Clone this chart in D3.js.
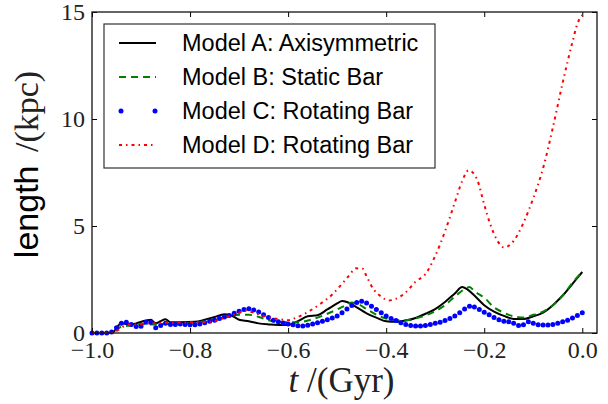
<!DOCTYPE html>
<html>
<head>
<meta charset="utf-8">
<script src="https://cdn.jsdelivr.net/npm/d3@7"></script>
<style>
  body { margin: 0; background: #fff; }
  svg { display: block; }
</style>
</head>
<body>
<div id="chart"></div>
<script>
// Model A: Axisymmetric (t, length)
var modelA = [[-1.0,0],[-0.96,0],[-0.94,0.45],[-0.92,0.4],[-0.91,0.45],[-0.89,0.58],[-0.88,0.62],[-0.87,0.45],
  [-0.86,0.55],[-0.85,0.64],[-0.84,0.5],[-0.82,0.5],[-0.79,0.52],[-0.77,0.62],[-0.75,0.75],[-0.73,0.88],
  [-0.72,0.85],[-0.71,0.75],[-0.70,0.62],[-0.68,0.55],[-0.66,0.45],[-0.64,0.4],[-0.62,0.37],[-0.60,0.38],
  [-0.58,0.55],[-0.56,0.78],[-0.54,0.83],[-0.52,1.1],[-0.50,1.38],[-0.49,1.5],[-0.48,1.45],[-0.46,1.2],
  [-0.44,0.92],[-0.42,0.72],[-0.40,0.55],[-0.38,0.52],[-0.36,0.58],[-0.34,0.7],[-0.32,0.9],[-0.30,1.12],
  [-0.28,1.45],[-0.26,1.85],[-0.245,2.15],[-0.235,2.05],[-0.22,1.75],[-0.20,1.3],[-0.18,1.0],[-0.16,0.8],
  [-0.14,0.66],[-0.12,0.65],[-0.10,0.78],[-0.08,0.95],[-0.06,1.3],[-0.04,1.75],[-0.02,2.3],[0.0,2.85]];

// Model B: Static Bar
var modelB = [[-1.0,0],[-0.96,0],[-0.94,0.3],[-0.92,0.35],[-0.90,0.42],[-0.88,0.4],[-0.86,0.42],[-0.84,0.45],
  [-0.80,0.45],[-0.77,0.55],[-0.74,0.68],[-0.72,0.78],[-0.70,0.85],[-0.68,0.85],[-0.66,0.75],[-0.64,0.6],
  [-0.62,0.52],[-0.60,0.5],[-0.58,0.5],[-0.56,0.58],[-0.54,0.72],[-0.52,0.9],[-0.50,1.1],[-0.48,1.32],
  [-0.47,1.42],[-0.46,1.38],[-0.44,1.12],[-0.42,0.85],[-0.40,0.68],[-0.38,0.6],[-0.36,0.6],[-0.34,0.68],
  [-0.32,0.82],[-0.30,1.02],[-0.28,1.3],[-0.26,1.7],[-0.24,2.05],[-0.23,2.15],[-0.22,1.95],[-0.20,1.65],
  [-0.18,1.2],[-0.16,0.95],[-0.14,0.78],[-0.12,0.72],[-0.10,0.85],[-0.08,1.0],[-0.06,1.3],[-0.04,1.75],
  [-0.02,2.35],[0.0,2.85]];

// Model C: Rotating Bar, one marker every 0.01 Gyr from -1.00 to 0.00
var modelCTimes = d3.range(0, 101).map(function (i) { return -1 + i / 100; });
var modelCValues = [0,0,0,0,0.05,0.25,0.45,0.5,0.4,0.3,
  0.32,0.5,0.5,0.25,0.35,0.45,0.4,0.4,0.42,0.4,
  0.38,0.38,0.42,0.48,0.55,0.6,0.68,0.75,0.82,0.92,
  1.02,1.1,1.13,1.08,0.98,0.85,0.72,0.6,0.52,0.47,
  0.42,0.38,0.34,0.33,0.36,0.42,0.48,0.55,0.62,0.7,
  0.8,0.95,1.12,1.28,1.42,1.48,1.4,1.25,1.1,0.95,
  0.8,0.68,0.58,0.48,0.4,0.35,0.33,0.33,0.35,0.4,
  0.45,0.5,0.58,0.68,0.8,0.95,1.12,1.25,1.22,1.1,
  0.97,0.85,0.72,0.62,0.55,0.52,0.45,0.35,0.38,0.52,
  0.45,0.38,0.37,0.37,0.4,0.45,0.52,0.6,0.7,0.82,
  0.95];

// Model D: Rotating Bar
var modelD = [[-1.0,0],[-0.96,0],[-0.95,0.1],[-0.93,0.35],[-0.90,0.42],[-0.88,0.45],[-0.84,0.48],[-0.80,0.5],
  [-0.76,0.52],[-0.73,0.7],[-0.70,0.95],[-0.69,1.05],[-0.67,0.95],[-0.65,0.8],[-0.62,0.65],[-0.60,0.6],
  [-0.58,0.75],[-0.56,0.98],[-0.535,1.35],[-0.51,1.8],[-0.49,2.3],[-0.475,2.7],[-0.462,3.02],[-0.448,3.0],
  [-0.44,2.65],[-0.426,2.05],[-0.41,1.7],[-0.395,1.52],[-0.38,1.6],[-0.36,1.9],[-0.34,2.4],[-0.32,2.75],
  [-0.30,3.6],[-0.28,4.75],[-0.26,6.1],[-0.245,7.1],[-0.232,7.6],[-0.215,7.2],[-0.20,6.0],[-0.188,5.1],
  [-0.174,4.35],[-0.16,4.0],[-0.14,4.3],[-0.12,5.15],[-0.10,6.3],[-0.08,7.7],[-0.06,9.6],[-0.04,11.7],
  [-0.02,13.6],[-0.01,14.45],[0.0,14.85]];

var legendLabels = ["Model A: Axisymmetric", "Model B: Static Bar", "Model C: Rotating Bar", "Model D: Rotating Bar"];
var xTicks = [-1.0, -0.8, -0.6, -0.4, -0.2, 0.0];
var yTicks = [0, 5, 10, 15];

var W = 608, H = 404;
var margin = { left: 92, right: 11, top: 12, bottom: 71 };
var width = W - margin.left - margin.right;
var height = H - margin.top - margin.bottom;

var svg = d3.select("#chart")
    .append("svg")
    .attr("width", W)
    .attr("height", H)
    .append("g")
    .attr("transform", "translate(" + margin.left + "," + margin.top + ")");

var x = d3.scaleLinear()
    .domain([-1.0, 0.03])
    .range([0, width]);

var y = d3.scaleLinear()
    .domain([0, 15])
    .range([height, 0]);

var serif = "'Liberation Serif', 'Times New Roman', serif";
var sans = "'Liberation Sans', Arial, sans-serif";

// Add X axis (bottom with labels, top ticks only)
var xAxis = svg.append("g")
    .attr("transform", "translate(0," + height + ")")
    .call(d3.axisBottom(x).tickValues(xTicks).tickSize(-5).tickPadding(8).tickFormat(d3.format(".1f")));
svg.append("g")
    .call(d3.axisTop(x).tickValues(xTicks).tickSize(-5).tickFormat(""));

// Add Y axis (left with labels, right ticks only)
var yAxis = svg.append("g")
    .call(d3.axisLeft(y).tickValues(yTicks).tickSize(-5).tickPadding(7).tickFormat(d3.format("d")));
svg.append("g")
    .attr("transform", "translate(" + width + ",0)")
    .call(d3.axisRight(y).tickValues(yTicks).tickSize(-5).tickFormat(""));

svg.selectAll(".domain").remove();
svg.selectAll(".tick line").attr("stroke", "#000").attr("stroke-width", 1);
svg.selectAll(".tick text")
    .style("font-family", serif)
    .style("font-size", "24px")
    .attr("fill", "#222");
yAxis.selectAll(".tick text").attr("dy", "0.3em");

// Lines
var line = d3.line()
    .x(function (d) { return x(d[0]); })
    .y(function (d) { return y(d[1]); })
    .curve(d3.curveMonotoneX);

var plot = svg.append("g");

plot.append("path")
    .datum(modelA)
    .attr("d", line)
    .attr("fill", "none")
    .attr("stroke", "#000")
    .attr("stroke-width", 2);

plot.append("path")
    .datum(modelB)
    .attr("d", line)
    .attr("fill", "none")
    .attr("stroke", "#008000")
    .attr("stroke-width", 2)
    .attr("stroke-dasharray", "7,5");

plot.selectAll(".dotC")
    .data(modelCTimes)
    .enter()
    .append("circle")
    .attr("class", "dotC")
    .attr("cx", function (d) { return x(d); })
    .attr("cy", function (d, i) { return y(modelCValues[i]); })
    .attr("r", 2.5)
    .attr("fill", "#0000ff");

plot.append("path")
    .datum(modelD)
    .attr("d", line)
    .attr("fill", "none")
    .attr("stroke", "#ff0000")
    .attr("stroke-width", 2)
    .attr("stroke-dasharray", "3,4,1.5,4");

// Frame
svg.append("rect")
    .attr("x", 0)
    .attr("y", 0)
    .attr("width", width)
    .attr("height", height)
    .attr("fill", "none")
    .attr("stroke", "#111")
    .attr("stroke-width", 1.3);

// Legend
var legend = svg.append("g")
    .attr("class", "legend")
    .attr("transform", "translate(" + (104 - margin.left) + "," + (24 - margin.top) + ")");

legend.append("rect")
    .attr("x", 0)
    .attr("y", 0)
    .attr("width", 331)
    .attr("height", 144)
    .attr("fill", "#fff")
    .attr("stroke", "#333")
    .attr("stroke-width", 1.2);

var rowY = function (i) { return 19 + i * 34; };

legend.append("line")
    .attr("x1", 15).attr("x2", 52)
    .attr("y1", rowY(0)).attr("y2", rowY(0))
    .attr("stroke", "#000").attr("stroke-width", 2);

legend.append("line")
    .attr("x1", 15).attr("x2", 52)
    .attr("y1", rowY(1)).attr("y2", rowY(1))
    .attr("stroke", "#008000").attr("stroke-width", 2)
    .attr("stroke-dasharray", "7,5");

legend.selectAll(".legdot")
    .data([17, 51])
    .enter()
    .append("circle")
    .attr("cx", function (d) { return d; })
    .attr("cy", rowY(2))
    .attr("r", 2.5)
    .attr("fill", "#0000ff");

legend.append("line")
    .attr("x1", 15).attr("x2", 52)
    .attr("y1", rowY(3)).attr("y2", rowY(3))
    .attr("stroke", "#ff0000").attr("stroke-width", 2)
    .attr("stroke-dasharray", "3,4,1.5,4");

legend.selectAll(".legtext")
    .data(legendLabels)
    .enter()
    .append("text")
    .attr("x", 78)
    .attr("y", function (d, i) { return rowY(i); })
    .attr("dy", "0.36em")
    .style("font-family", sans)
    .style("font-size", "23.5px")
    .attr("fill", "#000")
    .text(function (d) { return d; });

// Axis labels
var xlab = svg.append("text")
    .attr("x", width / 2 - 3)
    .attr("y", height + 59)
    .style("text-anchor", "middle")
    .style("font-family", serif)
    .style("font-size", "35px")
    .attr("fill", "#222");
xlab.append("tspan").style("font-style", "italic").text("t");
xlab.append("tspan").text(" /(Gyr)");

var ylab = svg.append("text")
    .attr("transform", "translate(" + (-54) + "," + (height / 2 - 8) + ") rotate(-90)")
    .style("text-anchor", "middle")
    .attr("fill", "#000");
ylab.append("tspan").style("font-family", sans).style("font-size", "34px").text("length ");
ylab.append("tspan").style("font-family", serif).style("font-size", "34px").attr("fill", "#222").attr("dx", 4).text("/(kpc)");
</script>
</body>
</html>
